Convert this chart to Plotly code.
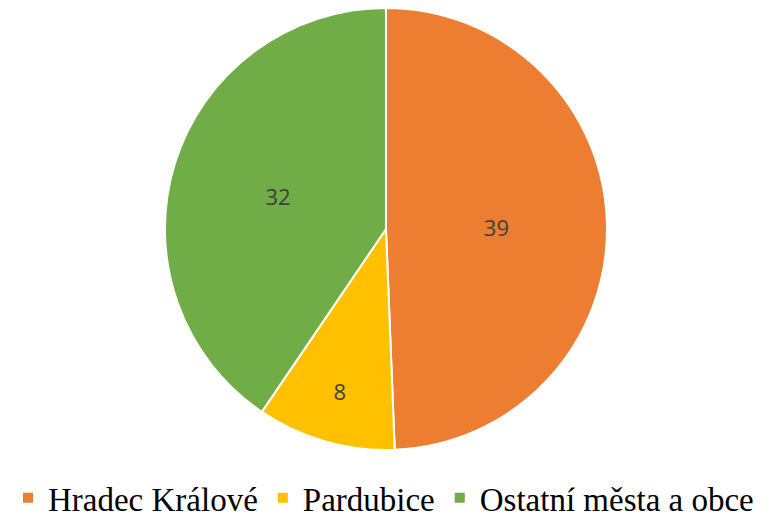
import plotly.graph_objects as go

labels = ["Hradec Králové", "Pardubice", "Ostatní města a obce"]
values = [39, 8, 32]
colors = ["#ED7D31", "#FFC000", "#70AD47"]

# page body has a default 8px margin, so the figure is sized to the visible area
W, H = 769, 513

fig = go.Figure(go.Pie(
    labels=labels,
    values=values,
    sort=False,
    direction="clockwise",
    rotation=0,
    marker=dict(colors=colors, line=dict(color="white", width=2)),
    textinfo="value",
    textposition="inside",
    insidetextorientation="horizontal",
    textfont=dict(family="Open Sans, Liberation Sans, sans-serif", size=22, color="#404040"),
    hoverinfo="label+value",
    domain=dict(x=[0, 0.983], y=[0, 1]),
))

fig.update_layout(
    width=W, height=H,
    margin=dict(l=0, r=0, t=0, b=71),
    paper_bgcolor="white",
    plot_bgcolor="white",
    showlegend=True,
    legend=dict(
        orientation="h",
        x=0.483, xanchor="center",
        yref="container",
        y=0.1, yanchor="top",
        font=dict(family="Liberation Serif, Times New Roman, serif", size=33, color="#000000"),
        itemwidth=30,
        traceorder="normal",
    ),
)

fig.write_html("out.html")
